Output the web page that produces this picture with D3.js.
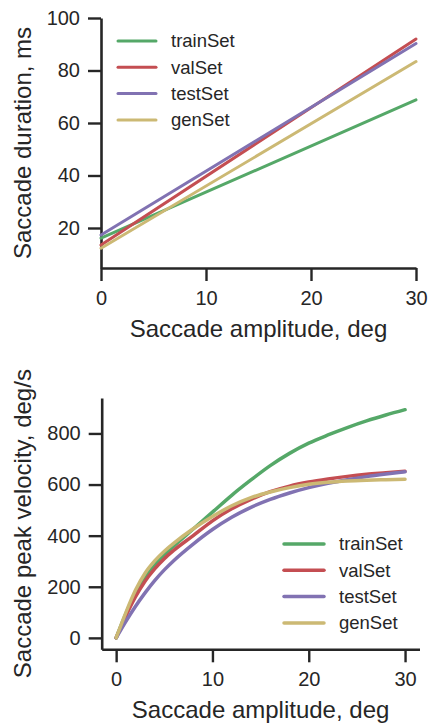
<!DOCTYPE html>
<html>
<head>
<meta charset="utf-8">
<script src="https://cdn.jsdelivr.net/npm/d3@7"></script>
<style>
  body { margin: 0; background: #fff; }
  text { font-family: "Liberation Sans", Arial, sans-serif; fill: #262626; }
</style>
</head>
<body>
<div class="chart"></div>
<script>
// series names + colours (seaborn deep)
const setNames = ['trainSet', 'valSet', 'testSet', 'genSet'];
const setColors = ['#55A868', '#C44E52', '#8172B2', '#CCB974'];

// top panel: linear fits, duration (ms) vs amplitude (deg)
const durAmp = [0, 30];
const durTrain = [16.1, 68.8];
const durVal = [13.5, 92.0];
const durTest = [17.3, 90.3];
const durGen = [12.3, 83.4];

// bottom panel: peak velocity (deg/s) vs amplitude (deg)
const velAmp = [0, 1, 2, 3, 4, 5, 6, 8, 10, 12, 14, 16, 18, 20, 22, 24, 26, 28, 30];
const velTrain = [0, 94, 174, 236, 284, 324, 360, 426, 492, 558, 618, 674, 722, 762, 794, 823, 849, 872, 893];
const velVal = [0, 85, 160, 222, 270, 310, 343, 400, 458, 505, 542, 572, 594, 610, 622, 632, 640, 646, 652];
const velTest = [0, 64, 123, 176, 224, 266, 303, 367, 424, 472, 511, 542, 567, 588, 605, 619, 631, 641, 650];
const velGen = [0, 98, 186, 253, 301, 339, 371, 427, 475, 517, 549, 571, 588, 601, 609, 614, 617, 619, 621];

const xTicks = [0, 10, 20, 30];
const durTicks = [20, 40, 60, 80, 100];
const velTicks = [0, 200, 400, 600, 800];

const width = 430;
const height = 723;
const ink = '#262626';

const svg = d3.select('.chart')
  .append('svg')
  .attr('width', width)
  .attr('height', height);

function panel(opts){
  const x = d3.scaleLinear().domain(opts.xDomain).range(opts.xRange);
  const y = d3.scaleLinear().domain(opts.yDomain).range(opts.yRange);

  //axes
  const xAxis = svg.append('g')
    .attr('transform', `translate(0,${opts.yRange[0]})`)
    .call(d3.axisBottom(x).tickValues(xTicks).tickSize(13).tickSizeOuter(0).tickPadding(10));
  const yAxis = svg.append('g')
    .attr('transform', `translate(${opts.xRange[0]},0)`)
    .call(d3.axisLeft(y).tickValues(opts.yTicks).tickSize(13).tickSizeOuter(0).tickPadding(8));

  [xAxis, yAxis].forEach(g=>{
    g.select('.domain').attr('stroke', ink).attr('stroke-width', 2.6);
    g.selectAll('.tick line').attr('stroke', ink).attr('stroke-width', 2.4);
    g.selectAll('.tick text')
      .attr('font-size', 20)
      .attr('font-family', '"Liberation Sans", Arial, sans-serif')
      .attr('fill', ink);
  });

  //lines
  const line = d3.line()
    .x(d=>x(d[0]))
    .y(d=>y(d[1]))
    .curve(d3.curveMonotoneX);

  opts.series.forEach((vals, i)=>{
    svg.append('path')
      .datum(opts.xs.map((a, j)=>[a, vals[j]]))
      .attr('fill', 'none')
      .attr('stroke', setColors[i])
      .attr('stroke-width', opts.lw)
      .attr('stroke-linecap', 'round')
      .attr('d', line);
  });

  //axis labels
  svg.append('text')
    .attr('x', (opts.xRange[0] + opts.xRange[1]) / 2)
    .attr('y', opts.xLabelY)
    .attr('text-anchor', 'middle')
    .attr('font-size', 24)
    .text('Saccade amplitude, deg');

  svg.append('text')
    .attr('transform', `translate(31,${(opts.yRange[0] + opts.yRange[1]) / 2}) rotate(-90)`)
    .attr('text-anchor', 'middle')
    .attr('font-size', 24)
    .text(opts.yLabel);

  //legend
  const leg = svg.append('g')
    .attr('transform', `translate(${opts.legX},${opts.legY})`);
  setNames.forEach((name, i)=>{
    leg.append('line')
      .attr('x1', 0).attr('x2', opts.legLen)
      .attr('y1', i * 26.3).attr('y2', i * 26.3)
      .attr('stroke', setColors[i])
      .attr('stroke-width', opts.lw)
      .attr('stroke-linecap', 'round');
    leg.append('text')
      .attr('x', opts.legLen + 15)
      .attr('y', i * 26.3)
      .attr('dy', '0.35em')
      .attr('font-size', 18.5)
      .text(name);
  });
}

panel({
  xDomain: [0, 30], xRange: [101, 416],
  yDomain: [4.76, 100], yRange: [268, 18],
  yTicks: durTicks,
  xs: durAmp,
  series: [durTrain, durVal, durTest, durGen],
  lw: 3,
  xLabelY: 337,
  yLabel: 'Saccade duration, ms',
  legX: 118, legY: 41, legLen: 38
});

panel({
  xDomain: [-1.5, 31.5], xRange: [101.7, 419.5],
  yDomain: [-44.7, 938.7], yRange: [649.3, 398],
  yTicks: velTicks,
  xs: velAmp,
  series: [velTrain, velVal, velTest, velGen],
  lw: 3.5,
  xLabelY: 717.5,
  yLabel: 'Saccade peak velocity, deg/s',
  legX: 284, legY: 544, legLen: 40
});
</script>
</body>
</html>
